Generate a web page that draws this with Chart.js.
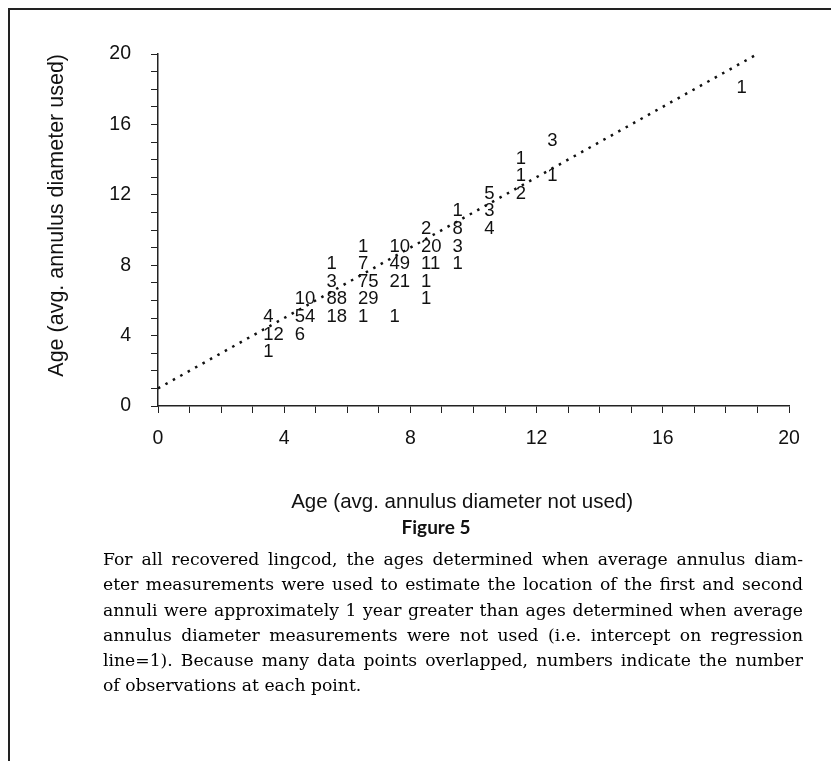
<!doctype html>
<html lang="en">
<head>
<meta charset="utf-8">
<script src="https://cdn.jsdelivr.net/npm/chart.js"></script>
<style>
  body { margin: 0; background: #fff; }
  #wrap { position: relative; width: 831px; height: 761px; overflow: hidden; background: #fff; }
  #chartBox { position: absolute; left: 0; top: 0; width: 831px; height: 526px; }
  #frame { position: absolute; left: 8px; top: 8px; width: 840px; height: 780px;
           border-top: 2px solid #222; border-left: 2px solid #222; pointer-events: none; }
  #fig { position: absolute; left: 336px; width: 200px; top: 515px; text-align: center;
         font: bold 19px Lato, sans-serif; color: #111; }
  #caption { position: absolute; left: 103px; top: 547px; width: 700px;
             font: 17.2px "DejaVu Serif", serif; line-height: 25.3px; color: #000;
             word-spacing: -1.5px; }
  #caption div { text-align: justify; text-align-last: justify; }
  #caption div.last { text-align-last: left; word-spacing: 0; }
</style>
</head>
<body>
<div id="wrap">
  <div id="chartBox"><canvas id="myChart"></canvas></div>
  <div id="frame"></div>
  <div id="fig">Figure 5</div>
  <div id="caption">
    <div>For all recovered lingcod, the ages determined when average annulus diam-</div>
    <div>eter measurements were used to estimate the location of the first and second</div>
    <div>annuli were approximately 1 year greater than ages determined when average</div>
    <div>annulus diameter measurements were not used (i.e. intercept on regression</div>
    <div>line=1). Because many data points overlapped, numbers indicate the number</div>
    <div class="last">of observations at each point.</div>
  </div>
</div>

<script>
  // age read without / with the average annulus diameter, and how many fish sit on each point
  const ageNotUsed = [3.5, 3.5, 3.5, 4.5, 4.5, 4.5, 5.5, 5.5, 5.5, 5.5,
    6.5, 6.5, 6.5, 6.5, 6.5, 7.5, 7.5, 7.5, 7.5, 8.5, 8.5, 8.5, 8.5, 8.5,
    9.5, 9.5, 9.5, 9.5, 10.5, 10.5, 10.5, 11.5, 11.5, 11.5, 12.5, 12.5, 18.5];
  const ageUsed = [3, 4, 5, 4, 5, 6, 5, 6, 7, 8,
    5, 6, 7, 8, 9, 5, 7, 8, 9, 6, 7, 8, 9, 10,
    8, 9, 10, 11, 10, 11, 12, 12, 13, 14, 13, 15, 18];
  const counts = [1, 12, 4, 6, 54, 10, 18, 88, 3, 1,
    1, 29, 75, 7, 1, 1, 21, 49, 10, 1, 1, 11, 20, 2,
    1, 3, 8, 1, 4, 3, 5, 2, 1, 1, 1, 3, 1];

  // regression line, intercept 1
  const fitX = [0, 19];
  const fitY = [1, 20];

  const labelStep = 4;
  const axisFont = '"Liberation Sans", Arial, Helvetica, sans-serif';
  const ink = '#111';

  const points = ageNotUsed.map((x, i) => ({x: x, y: ageUsed[i]}));
  const fitLine = fitX.map((x, i) => ({x: x, y: fitY[i]}));

  // numbers drawn where the points are
  const countLabels = {
    id: 'countLabels',
    afterDatasetsDraw(chart) {
      const ctx = chart.ctx;
      const meta = chart.getDatasetMeta(0);
      ctx.save();
      ctx.font = '18.5px ' + axisFont;
      ctx.fillStyle = ink;
      ctx.textAlign = 'left';
      ctx.textBaseline = 'middle';
      const half = ctx.measureText('0').width / 2;
      meta.data.forEach(function(pt, i) {
        ctx.fillText(String(counts[i]), pt.x - half, pt.y - 1);
      });
      ctx.restore();
    }
  };

  function tickLabel(v) {
    return v % labelStep === 0 ? v : '';
  }

  var canvas = document.getElementById('myChart');
  var setup = {
    type: 'scatter',
    data: {
      datasets: [{
        data: points,
        pointRadius: 0,
        pointHoverRadius: 0
      }, {
        type: 'line',
        data: fitLine,
        borderColor: ink,
        borderWidth: 2.5,
        borderDash: [2.5, 6],
        pointRadius: 0,
        fill: false
      }]
    },
    options: {
      responsive: true,
      maintainAspectRatio: false,
      animation: false,
      layout: { padding: { left: 0, top: 54, right: 42, bottom: 0 } },
      plugins: {
        legend: { display: false },
        tooltip: { enabled: false }
      },
      scales: {
        x: {
          type: 'linear',
          min: 0,
          max: 20,
          afterFit(s) { s.height = 120; },
          ticks: { stepSize: 1, autoSkip: false, maxRotation: 0, callback: tickLabel,
                   font: { family: axisFont, size: 19.5 }, color: ink, padding: 14 },
          grid: { drawOnChartArea: false, tickLength: 7, color: '#222', lineWidth: 1 },
          border: { color: '#222', width: 1.5 },
          title: { display: true, text: 'Age (avg. annulus diameter not used)    ',
                   font: { family: axisFont, size: 20.5 }, color: ink,
                   padding: { top: 0, bottom: 11 } }
        },
        y: {
          min: 0,
          max: 20,
          afterFit(s) { s.width = 158; },
          ticks: { stepSize: 1, autoSkip: false, callback: tickLabel,
                   font: { family: axisFont, size: 19.5 }, color: ink, padding: 20 },
          grid: { drawOnChartArea: false, tickLength: 7, color: '#222', lineWidth: 1 },
          border: { color: '#222', width: 1.5 },
          title: { display: true, text: 'Age (avg. annulus diameter used)', align: 'end',
                   font: { family: axisFont, size: 21.5 }, color: ink,
                   padding: { top: 44, bottom: 0 } }
        }
      }
    },
    plugins: [countLabels]
  };
  chart = new Chart(canvas, setup);
</script>
</body>
</html>
